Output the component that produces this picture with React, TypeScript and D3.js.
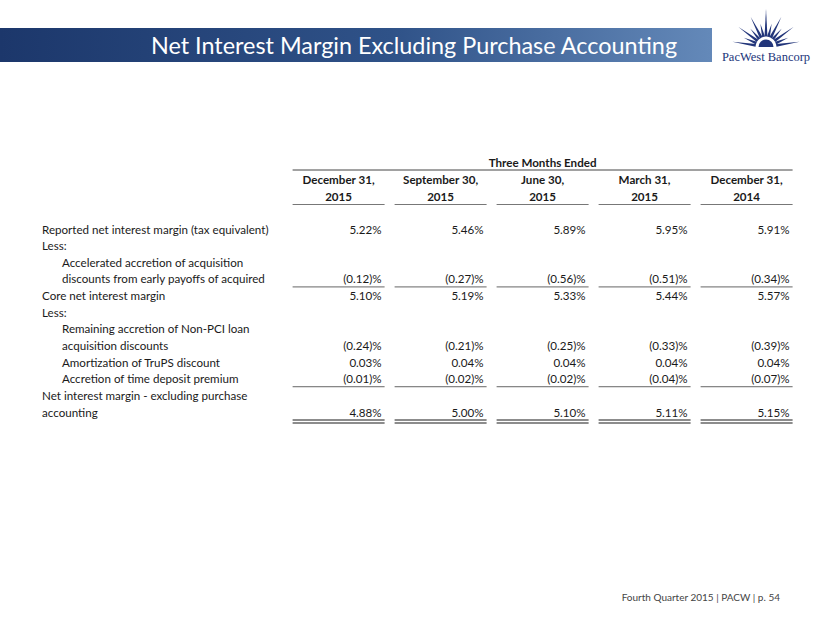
import React, { useEffect, useRef } from 'react';
import * as d3 from 'd3';

// Periodos (colunas)
const periodMonths = ['December 31,', 'September 30,', 'June 30,', 'March 31,', 'December 31,'];
const periodYears = ['2015', '2015', '2015', '2015', '2014'];

// Linhas da tabela
const rowLabels = [
  'Reported net interest margin (tax equivalent)',
  'Less:',
  'Accelerated accretion of acquisition',
  'discounts from early payoffs of acquired',
  'Core net interest margin',
  'Less:',
  'Remaining accretion of Non-PCI loan',
  'acquisition discounts',
  'Amortization of TruPS discount',
  'Accretion of time deposit premium',
  'Net interest margin - excluding purchase',
  'accounting',
];
const rowLevels = [0, 0, 1, 1, 0, 0, 1, 1, 1, 1, 0, 0];

// Valores (%)
const reported = [5.22, 5.46, 5.89, 5.95, 5.91];
const accelerated = [-0.12, -0.27, -0.56, -0.51, -0.34];
const core = [5.10, 5.19, 5.33, 5.44, 5.57];
const remaining = [-0.24, -0.21, -0.25, -0.33, -0.39];
const trups = [0.03, 0.04, 0.04, 0.04, 0.04];
const timeDeposit = [-0.01, -0.02, -0.02, -0.04, -0.07];
const excluding = [4.88, 5.00, 5.10, 5.11, 5.15];

// linha da tabela -> serie
const valueRows: [number, number[]][] = [
  [0, reported],
  [3, accelerated],
  [4, core],
  [7, remaining],
  [8, trups],
  [9, timeDeposit],
  [11, excluding],
];
const singleRuleRows = [3, 9];
const doubleRuleRows = [11];

const FONT = 'Lato, "Open Sans", sans-serif';

const App = () => {
  const svgRef = useRef<SVGSVGElement>(null);

  useEffect(() => {
    if (!svgRef.current) return;
    const svg = d3.select(svgRef.current);
    svg.selectAll('*').remove();

    const width = 830;
    const height = 623;
    svg.attr('width', width).attr('height', height);

    // Faixa do titulo
    const defs = svg.append('defs');
    const grad = defs.append('linearGradient').attr('id', 'banner').attr('x1', 0).attr('x2', 1);
    grad.append('stop').attr('offset', '0%').attr('stop-color', '#1c376b');
    grad.append('stop').attr('offset', '55%').attr('stop-color', '#2f5288');
    grad.append('stop').attr('offset', '100%').attr('stop-color', '#6489b9');

    svg.append('rect')
      .attr('x', 0).attr('y', 28).attr('width', 712).attr('height', 34)
      .attr('fill', 'url(#banner)');

    svg.append('text')
      .attr('x', 414).attr('y', 45)
      .attr('text-anchor', 'middle')
      .attr('dominant-baseline', 'central')
      .attr('fill', '#fff')
      .attr('font-family', FONT)
      .attr('font-size', 23.4)
      .text('Net Interest Margin Excluding Purchase Accounting');

    // Logo
    const logo = svg.append('g').attr('transform', 'translate(766,47)');
    const rayCount = 13;
    const angle = d3.scaleLinear().domain([0, rayCount - 1]).range([Math.PI * 0.95, Math.PI * 0.05]);
    d3.range(rayCount).forEach(i => {
      const a = angle(i);
      const len = i === 6 ? 38 : i % 2 === 0 ? 34 : 24;
      const r0 = 10.5;
      const half = 0.14;
      const p = (r: number, t: number) => [r * Math.cos(t), -r * Math.sin(t)];
      const pts = [p(r0, a - half), p(len, a), p(r0, a + half)];
      logo.append('path')
        .attr('d', d3.line()(pts as [number, number][]) + 'Z')
        .attr('fill', '#22357a');
    });
    const arc = d3.arc<any>();
    logo.append('path')
      .attr('d', arc({ innerRadius: 0, outerRadius: 7.5, startAngle: -Math.PI / 2, endAngle: Math.PI / 2 }))
      .attr('fill', '#22357a');
    svg.append('text')
      .attr('x', 766).attr('y', 61)
      .attr('text-anchor', 'middle')
      .attr('fill', '#22357a')
      .attr('font-family', '"Liberation Serif", "DejaVu Serif", serif')
      .attr('font-size', 12.5)
      .text('PacWest Bancorp');

    // Escalas da tabela
    const x = d3.scaleBand<number>()
      .domain(d3.range(periodMonths.length))
      .range([292.6, 792.6])
      .paddingInner(0.098)
      .paddingOuter(0);

    const y = d3.scaleLinear().domain([0, rowLabels.length - 1]).range([229, 412]);

    const table = svg.append('g')
      .attr('font-family', FONT)
      .attr('font-size', 11.6)
      .attr('fill', '#1a1a1a');

    // Cabecalho
    table.append('text')
      .attr('x', (x.range()[0] + x.range()[1]) / 2)
      .attr('y', 162.5)
      .attr('text-anchor', 'middle')
      .attr('dominant-baseline', 'central')
      .attr('font-weight', 'bold')
      .text('Three Months Ended');

    table.append('line')
      .attr('x1', x.range()[0]).attr('x2', x.range()[1])
      .attr('y1', 170).attr('y2', 170)
      .attr('stroke', '#444').attr('stroke-width', 1);

    const heads = table.selectAll('.head')
      .data(d3.range(periodMonths.length))
      .enter().append('g').attr('class', 'head');

    heads.append('text')
      .attr('x', d => x(d)! + x.bandwidth() / 2)
      .attr('y', 179.5)
      .attr('text-anchor', 'middle')
      .attr('dominant-baseline', 'central')
      .attr('font-weight', 'bold')
      .text(d => periodMonths[d]);

    heads.append('text')
      .attr('x', d => x(d)! + x.bandwidth() / 2)
      .attr('y', 196.5)
      .attr('text-anchor', 'middle')
      .attr('dominant-baseline', 'central')
      .attr('font-weight', 'bold')
      .text(d => periodYears[d]);

    heads.append('line')
      .attr('x1', d => x(d)!).attr('x2', d => x(d)! + x.bandwidth())
      .attr('y1', 204.5).attr('y2', 204.5)
      .attr('stroke', '#777').attr('stroke-width', 1);

    // Rotulos
    table.selectAll('.label')
      .data(rowLabels)
      .enter().append('text')
      .attr('class', 'label')
      .attr('x', (d, i) => 42 + rowLevels[i] * 20)
      .attr('y', (d, i) => y(i))
      .attr('dominant-baseline', 'central')
      .text(d => d);

    // Valores
    const fmt = d3.format('.2f');
    const fmtPct = (v: number) => (v < 0 ? `(${fmt(-v)})%` : `${fmt(v)}%`);

    valueRows.forEach(([row, values]) => {
      table.selectAll(null)
        .data(values)
        .enter().append('text')
        .attr('x', (d, i) => x(i)! + x.bandwidth() - 3)
        .attr('y', y(row))
        .attr('text-anchor', 'end')
        .attr('dominant-baseline', 'central')
        .text(d => fmtPct(d));
    });

    // Sublinhados
    singleRuleRows.forEach(row => {
      table.selectAll(null)
        .data(d3.range(periodMonths.length))
        .enter().append('line')
        .attr('x1', d => x(d)!).attr('x2', d => x(d)! + x.bandwidth())
        .attr('y1', y(row) + 8).attr('y2', y(row) + 8)
        .attr('stroke', '#666').attr('stroke-width', 1);
    });

    doubleRuleRows.forEach(row => {
      [8, 11].forEach(off => {
        table.selectAll(null)
          .data(d3.range(periodMonths.length))
          .enter().append('line')
          .attr('x1', d => x(d)!).attr('x2', d => x(d)! + x.bandwidth())
          .attr('y1', y(row) + off).attr('y2', y(row) + off)
          .attr('stroke', '#666').attr('stroke-width', 1.6);
      });
    });

    // Rodape
    svg.append('text')
      .attr('x', 780).attr('y', 597)
      .attr('text-anchor', 'end')
      .attr('dominant-baseline', 'central')
      .attr('font-family', FONT)
      .attr('font-size', 10)
      .attr('fill', '#444')
      .text('Fourth Quarter 2015 | PACW | p. 54');
  }, []);

  return (
    <div style={{ position: 'absolute', left: 0, top: 0 }}>
      <svg ref={svgRef} style={{ display: 'block' }}></svg>
    </div>
  );
};

export default App;
